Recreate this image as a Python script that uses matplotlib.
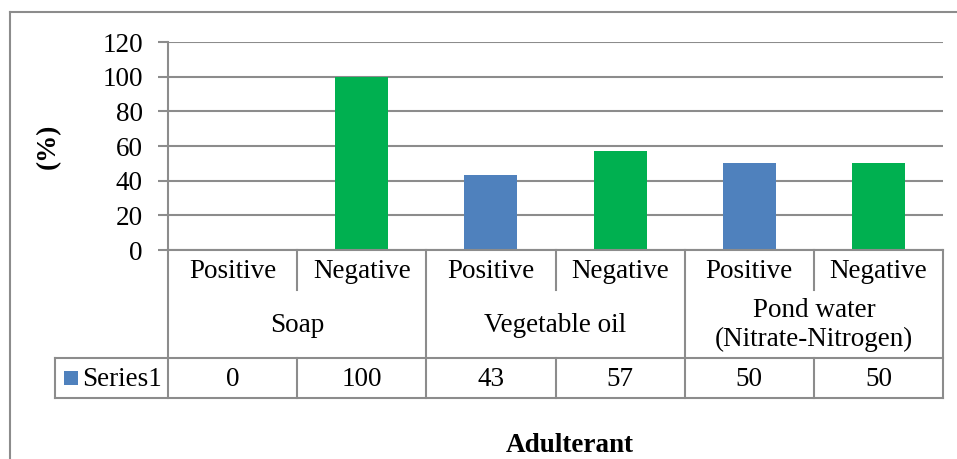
import matplotlib
matplotlib.use("Agg")
import matplotlib.pyplot as plt
from matplotlib.lines import Line2D
from matplotlib.patches import Rectangle

plt.rcParams['font.family'] = ['Liberation Serif', 'DejaVu Serif']

categories = ["Positive", "Negative", "Positive", "Negative", "Positive", "Negative"]
groups = ["Soap", "Vegetable oil", "Pond water\n(Nitrate-Nitrogen)"]
values = [0, 100, 43, 57, 50, 50]
series_name = "Series1"
yticks = [0, 20, 40, 60, 80, 100, 120]
blue = "#4F81BD"
green = "#00B050"
colors = [blue, green, blue, green, blue, green]

FS = 19.5
W, H = 957, 459
fig = plt.figure(figsize=(W / 100, H / 100), dpi=100)
ax = fig.add_axes([168 / W, 1 - 250 / H, (943 - 168) / W, (250 - 42) / H])

grid_c = "#8c8c8c"
x = list(range(len(values)))
ax.bar(x, values, width=0.41, color=colors, zorder=3)
ax.set_xlim(-0.5, len(values) - 0.5)
ax.set_ylim(0, 120)
ax.set_yticks(yticks)
ax.set_yticklabels([str(t) for t in yticks], fontsize=FS)
ax.yaxis.grid(True, color=grid_c, linewidth=1.5, zorder=0)
ax.set_axisbelow(True)
ax.set_xticks([])
for s in ["top", "right", "bottom"]:
    ax.spines[s].set_visible(False)
ax.spines["left"].set_color(grid_c)
ax.spines["left"].set_linewidth(1.5)
ax.tick_params(axis="y", length=7, width=1.5, color=grid_c, pad=11)
ax.axhline(0, color=grid_c, linewidth=1.5, zorder=4, clip_on=False)

trans = ax.get_xaxis_transform()
ph = 250 - 42
def fy(py):
    return -(py - 250) / ph

y_cat = fy(290)
y_grp = fy(358)
y_ser = fy(398)
n = len(values)
lw = 1.5

def line(xs, ys):
    ax.add_line(Line2D(xs, ys, transform=trans, color=grid_c, linewidth=lw, clip_on=False, zorder=5))

# vertical lines in category rows
for i in range(n + 1):
    xb = i - 0.5
    if i % 2 == 0:
        line([xb, xb], [0, y_ser])
    else:
        line([xb, xb], [0, y_cat])
        line([xb, xb], [y_grp, y_ser])
# horizontal lines
left_series = -0.5 - (168 - 55) / ((943 - 168) / n)
line([left_series, n - 0.5], [y_grp, y_grp])
line([left_series, n - 0.5], [y_ser, y_ser])
line([left_series, left_series], [y_grp, y_ser])

for i, c in enumerate(categories):
    ax.text(i, fy(271), c, transform=trans, ha="center", va="center", fontsize=FS)
for g, name in enumerate(groups):
    ax.text(2 * g + 0.5, fy(325), name, transform=trans, ha="center", va="center",
            fontsize=FS, linespacing=1.15)
for i, v in enumerate(values):
    ax.text(i, fy(379), str(v), transform=trans, ha="center", va="center", fontsize=FS)

# legend key + series name
fig.patches.append(Rectangle((64 / W, 1 - 385 / H), 14 / W, 14 / H, transform=fig.transFigure,
                             facecolor=blue, edgecolor="none"))
fig.text(82 / W, 1 - 379 / H, series_name, ha="left", va="center", fontsize=FS)

ax.set_ylabel("(%)", fontsize=FS, fontweight="bold", labelpad=0)
ax.yaxis.set_label_coords(61 / W, 1 - 146 / H, transform=fig.transFigure)
fig.text(570 / W, 1 - 446 / H, "Adulterant", ha="center", va="center", fontsize=FS, fontweight="bold")

# outer chart frame
fig.add_artist(Line2D([9.5 / W, 9.5 / W], [1 - 12 / H, 0], transform=fig.transFigure, color=grid_c, linewidth=1.5))
fig.add_artist(Line2D([9.5 / W, 1], [1 - 12 / H, 1 - 12 / H], transform=fig.transFigure, color=grid_c, linewidth=1.5))

fig.savefig("out.png", dpi=100)
